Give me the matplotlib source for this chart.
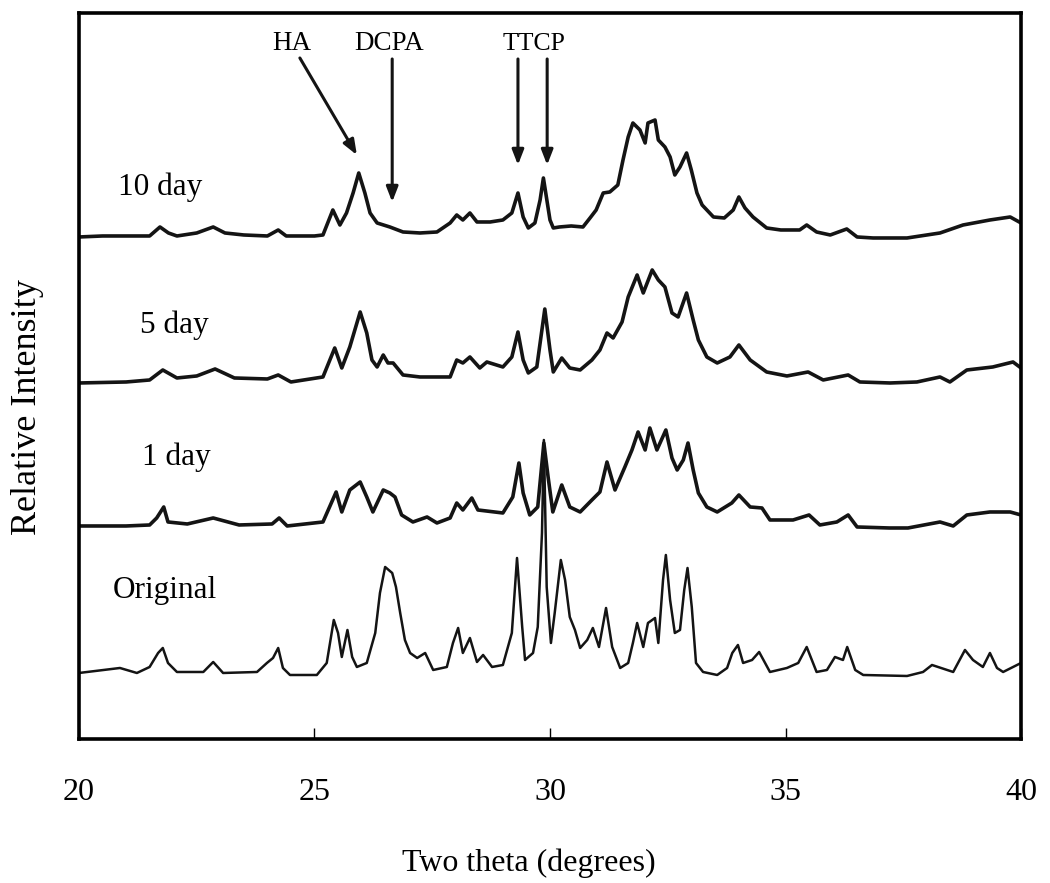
import numpy as np
import matplotlib
matplotlib.use("Agg")
import matplotlib.pyplot as plt

plt.rcParams['font.family'] = ['Liberation Serif', 'DejaVu Serif']

# --- XRD-паттерны (интенсивность над собственной базовой линией, отн. ед.) ---
two_theta_10 = [20.0, 20.5, 21.0, 21.5, 21.72, 21.9, 22.08, 22.5, 22.85, 23.1, 23.5, 24.0, 24.23, 24.4,
                25.0, 25.18, 25.39, 25.54, 25.68, 25.82, 25.94, 26.07, 26.18, 26.33, 26.6, 26.88, 27.24,
                27.6, 27.88, 28.02, 28.15, 28.3, 28.45, 28.73, 29.0, 29.19, 29.32, 29.43, 29.54, 29.68,
                29.79, 29.86, 30.0, 30.07, 30.2, 30.45, 30.7, 30.85, 30.98, 31.13, 31.27, 31.44, 31.55,
                31.66, 31.76, 31.91, 32.02, 32.08, 32.23, 32.3, 32.44, 32.55, 32.65, 32.76, 32.9, 33.0,
                33.12, 33.23, 33.47, 33.7, 33.89, 34.01, 34.14, 34.31, 34.6, 34.9, 35.3, 35.45, 35.66,
                35.95, 36.3, 36.52, 36.86, 37.58, 38.28, 38.77, 39.34, 39.77, 40.0]
int_10 = [0, 1, 1, 1, 10, 4, 1, 4, 10, 4, 2, 1, 7, 1,
          1, 2, 27, 12, 24, 44, 64, 44, 24, 14, 10, 5, 4,
          5, 14, 22, 17, 24, 15, 15, 17, 24, 44, 20, 9, 14,
          37, 59, 17, 9, 10, 11, 10, 19, 27, 44, 45, 52, 77,
          100, 114, 107, 94, 114, 117, 97, 90, 80, 62, 70, 84, 67,
          44, 32, 20, 19, 27, 40, 29, 20, 9, 7, 7, 12, 5,
          2, 8, 0, -1, -1, 4, 12, 17, 20, 14]

two_theta_5 = [20.0, 21.0, 21.5, 21.78, 22.08, 22.5, 22.89, 23.3, 24.0, 24.23, 24.5, 25.18, 25.43, 25.58,
               25.75, 25.97, 26.11, 26.22, 26.33, 26.46, 26.56, 26.67, 26.88, 27.24, 27.88, 28.02, 28.15,
               28.3, 28.51, 28.66, 29.0, 29.19, 29.32, 29.43, 29.54, 29.72, 29.89, 30.0, 30.07, 30.25,
               30.42, 30.64, 30.89, 31.06, 31.21, 31.34, 31.53, 31.66, 31.85, 31.98, 32.17, 32.3, 32.44,
               32.59, 32.72, 32.9, 33.04, 33.15, 33.33, 33.55, 33.82, 34.01, 34.25, 34.6, 35.03, 35.48,
               35.8, 36.33, 36.58, 37.22, 37.79, 38.28, 38.49, 38.85, 39.4, 39.83, 40.0]
int_5 = [0, 1, 3, 13, 5, 7, 14, 5, 4, 8, 1, 6, 35, 15,
         36, 71, 50, 23, 16, 28, 20, 20, 8, 6, 6, 23, 20,
         26, 15, 21, 16, 26, 51, 23, 10, 16, 74, 33, 11, 25,
         15, 13, 23, 33, 50, 45, 61, 86, 108, 90, 113, 103, 96,
         70, 66, 90, 63, 43, 26, 20, 26, 38, 23, 11, 7, 11,
         3, 8, 1, 0, 1, 6, 1, 13, 16, 21, 15]

two_theta_1 = [20.0, 21.0, 21.5, 21.65, 21.8, 21.89, 22.3, 22.85, 23.4, 24.1, 24.25, 24.42, 25.18, 25.46,
               25.58, 25.75, 25.97, 26.11, 26.24, 26.46, 26.6, 26.71, 26.85, 27.09, 27.39, 27.6, 27.88,
               28.02, 28.15, 28.34, 28.47, 29.0, 29.21, 29.34, 29.43, 29.57, 29.74, 29.87, 29.96, 30.06,
               30.25, 30.42, 30.64, 30.89, 31.06, 31.21, 31.38, 31.59, 31.74, 31.87, 32.02, 32.12, 32.27,
               32.46, 32.59, 32.7, 32.83, 32.93, 33.04, 33.15, 33.33, 33.55, 33.86, 34.01, 34.25, 34.5,
               34.67, 35.16, 35.5, 35.73, 36.09, 36.33, 36.52, 37.2, 37.6, 38.28, 38.56, 38.85, 39.34,
               39.77, 40.0]
int_1 = [0, 0, 1, 8, 19, 4, 2, 8, 1, 2, 8, 0, 4, 34,
         14, 36, 44, 29, 14, 36, 33, 29, 11, 4, 9, 3, 8,
         23, 16, 28, 16, 13, 29, 63, 33, 11, 19, 83, 49, 14,
         41, 19, 14, 26, 34, 64, 36, 59, 76, 94, 76, 98, 76,
         96, 68, 56, 66, 83, 56, 33, 19, 14, 23, 31, 19, 18,
         6, 6, 11, 1, 4, 11, -1, -2, -2, 4, 0, 11, 14,
         14, 11]

two_theta_0 = [20.0, 20.87, 21.23, 21.5, 21.68, 21.78, 21.89, 22.08, 22.64, 22.85, 23.06, 23.78, 23.99, 24.12,
               24.23, 24.33, 24.48, 25.05, 25.26, 25.41, 25.5, 25.58, 25.7, 25.8, 25.9, 26.11, 26.29,
               26.39, 26.5, 26.65, 26.73, 26.82, 26.92, 27.03, 27.18, 27.35, 27.52, 27.81, 27.94, 28.05,
               28.15, 28.3, 28.45, 28.58, 28.77, 29.0, 29.19, 29.3, 29.41, 29.47, 29.64, 29.74, 29.83,
               29.87, 29.93, 30.02, 30.1, 30.23, 30.32, 30.42, 30.53, 30.64, 30.79, 30.91, 31.04, 31.19,
               31.32, 31.49, 31.66, 31.76, 31.85, 31.98, 32.08, 32.23, 32.3, 32.4, 32.46, 32.55, 32.65,
               32.76, 32.85, 32.92, 33.01, 33.1, 33.25, 33.55, 33.76, 33.87, 33.99, 34.1, 34.29, 34.44,
               34.67, 35.03, 35.27, 35.45, 35.66, 35.88, 36.05, 36.22, 36.31, 36.48, 36.65, 37.58, 37.92,
               38.11, 38.56, 38.81, 38.98, 39.19, 39.34, 39.49, 39.62, 40.0]
int_0 = [0, 5, 0, 6, 20, 25, 10, 1, 1, 11, 0, 1, 10, 15,
         25, 5, -2, -2, 10, 53, 40, 16, 43, 16, 6, 10, 40,
         80, 106, 100, 86, 60, 33, 20, 15, 20, 3, 6, 30, 45,
         20, 35, 11, 18, 6, 8, 40, 115, 46, 13, 20, 46, 140,
         233, 86, 30, 60, 113, 93, 56, 43, 25, 33, 45, 26, 65,
         26, 5, 10, 30, 50, 26, 50, 55, 30, 93, 118, 73, 40,
         43, 83, 105, 66, 10, 1, -2, 5, 20, 28, 10, 13, 21,
         1, 5, 10, 26, 1, 3, 16, 13, 26, 3, -2, -3, 1,
         8, 1, 23, 13, 6, 20, 5, 1, 10]

sample_labels = ["10 day", "5 day", "1 day", "Original"]
phase_labels = ["HA", "DCPA", "TTCP"]
phase_pos = {"HA": [25.90], "DCPA": [26.65], "TTCP": [29.32, 29.94]}

fig = plt.figure(figsize=(10.5, 8.83), dpi=100)
ax = fig.add_axes([0.0752, 0.1631, 0.8972, 0.8222])

traces = [(two_theta_10, int_10, 502, 2.6),
          (two_theta_5, int_5, 356, 2.6),
          (two_theta_1, int_1, 213, 2.6),
          (two_theta_0, int_0, 66, 1.8)]
for x, y, off, lw in traces:
    ax.plot(x, np.array(y) + off, color='#141414', lw=lw, solid_joinstyle='round')

# подписи образцов
label_pos = [(20.83, 544), (21.30, 406), (21.34, 274), (20.72, 141)]
for lab, (lx, ly) in zip(sample_labels, label_pos):
    ax.text(lx, ly, lab, fontsize=22.5, ha='left', va='baseline')

# фазы и стрелки
arrow_kw = dict(arrowstyle='-|>,head_length=0.9,head_width=0.35', color='#141414', lw=2.2,
                shrinkA=0, shrinkB=0)
ax.text(24.52, 689, "HA", fontsize=19.5, ha='center', va='baseline')
ax.annotate("", xy=(25.90, 584), xytext=(24.69, 681), arrowprops=arrow_kw)
ax.text(26.58, 689, "DCPA", fontsize=19.5, ha='center', va='baseline')
ax.annotate("", xy=(26.65, 537), xytext=(26.65, 680), arrowprops=arrow_kw)
ax.text(29.66, 689, "TTCP", fontsize=18.5, ha='center', va='baseline')
for px in phase_pos["TTCP"]:
    ax.annotate("", xy=(px, 574), xytext=(px, 680), arrowprops=arrow_kw)

ax.set_xlim(20, 40)
ax.set_ylim(0, 726)
ax.set_xticks([20, 25, 30, 35, 40])
ax.set_yticks([])
ax.tick_params(axis='x', direction='in', length=8, width=1, pad=28, labelsize=23)
for s in ax.spines.values():
    s.set_linewidth(2.6)

ax.set_xlabel("Two theta (degrees)", fontsize=23, va='center')
ax.xaxis.set_label_coords(0.477, -0.171)
ax.set_ylabel("Relative Intensity", fontsize=26, va='center')
ax.yaxis.set_label_coords(-0.055, 0.457)

plt.savefig("out.png", dpi=100)
plt.close()
